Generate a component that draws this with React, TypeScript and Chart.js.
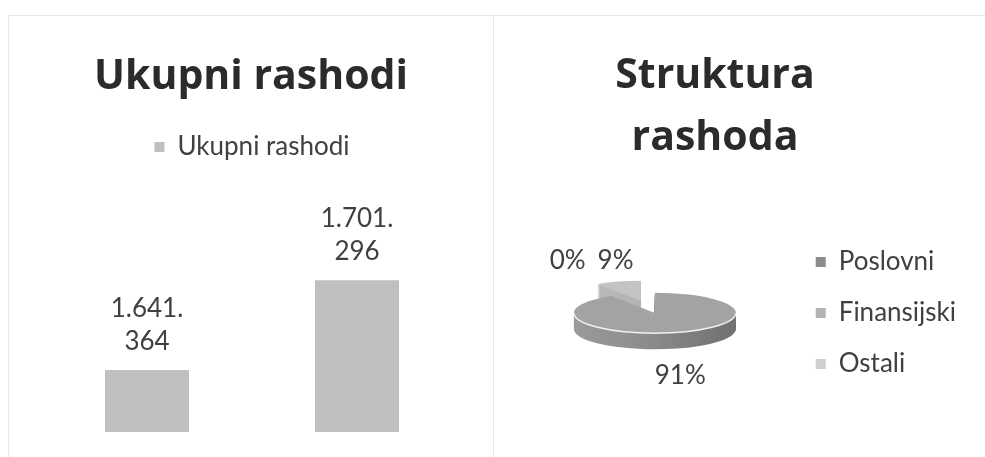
import React, { useEffect, useRef } from "react";
import { Chart, registerables } from "chart.js";

Chart.register(...registerables);

// ---------- data ----------
const barTitleLines = ["Ukupni rashodi"];
const barCategories = ["Prethodni period", "Tekući period"];
const barSeriesName = "Ukupni rashodi";
const barValues = [1641364, 1701296];
const barAxisMin = 1600000;
const barAxisMax = 1775000;

const pieTitleLines = ["Struktura", "rashoda"];
const pieCategories = ["Poslovni", "Finansijski", "Ostali"];
const pieValues = [91, 9, 0];
const pieColors = ["#8c8c8c", "#b4b4b4", "#cfcfcf"];
const pieExplode = [0, 50, 0];

// ---------- styles ----------
const LABEL_FONT = "Lato, 'Open Sans', sans-serif";
const TITLE_FONT = "'Open Sans', Lato, sans-serif";
const TEXT_COLOR = "#404040";

function formatThousands(v: number) {
  return String(Math.round(v)).replace(/\B(?=(\d{3})+(?!\d))/g, ".");
}

function shade(hex: string, f: number) {
  const n = parseInt(hex.slice(1), 16);
  const ch = [(n >> 16) & 255, (n >> 8) & 255, n & 255].map((c) =>
    Math.round(f >= 0 ? c + (255 - c) * f : c * (1 + f))
  );
  return `rgb(${ch[0]},${ch[1]},${ch[2]})`;
}

function headline(lines: string[], baseline: number, lineGap: number, centerX?: number) {
  return {
    id: "headline",
    afterDraw(chart: any) {
      const ctx = chart.ctx as CanvasRenderingContext2D;
      ctx.save();
      ctx.font = `bold 41px ${TITLE_FONT}`;
      ctx.fillStyle = "#2b2b2b";
      ctx.textAlign = "center";
      ctx.textBaseline = "alphabetic";
      const x = centerX ?? chart.width / 2;
      lines.forEach((t, i) => ctx.fillText(t, x, baseline + i * lineGap));
      ctx.restore();
    },
  };
}

const barValueLabels = {
  id: "barValueLabels",
  afterDatasetsDraw(chart: any) {
    const ctx = chart.ctx as CanvasRenderingContext2D;
    const meta = chart.getDatasetMeta(0);
    ctx.save();
    ctx.font = `26px ${LABEL_FONT}`;
    ctx.fillStyle = TEXT_COLOR;
    ctx.textAlign = "center";
    ctx.textBaseline = "alphabetic";
    meta.data.forEach((bar: any, i: number) => {
      const s = formatThousands(chart.data.datasets[0].data[i]);
      const cut = s.lastIndexOf(".") + 1;
      const lines = cut > 0 ? [s.slice(0, cut), s.slice(cut)] : [s];
      lines.forEach((t, k) =>
        ctx.fillText(t, bar.x, bar.y - 20 - (lines.length - 1 - k) * 33)
      );
    });
    ctx.restore();
  },
};

function pie3d(cfg: {
  tilt: number;
  depth: number;
  explode: number[];
  gapX: number;
  gapY: number;
  drop: number;
}) {
  return {
    id: "pie3d",
    beforeDatasetsDraw(chart: any) {
      const meta = chart.getDatasetMeta(0);
      const arcs: any[] = meta.data;
      if (!arcs.length) return false;
      const ctx = chart.ctx as CanvasRenderingContext2D;
      const sy = cfg.tilt;
      const depth = cfg.depth;
      const cx = arcs[0].x;
      const cy = arcs[0].y;
      const r = arcs[0].outerRadius;
      const ds = chart.data.datasets[0];
      const base: string[] = ds.backgroundColor;
      const vals: number[] = ds.data;
      const total = vals.reduce((a, b) => a + b, 0);
      const mid = (a: any) => (a.startAngle + a.endAngle) / 2;
      const shift = (a: any, i: number) => {
        const e = cfg.explode[i] || 0;
        const m = mid(a);
        return [Math.cos(m) * e, Math.sin(m) * e];
      };
      const paint = (a: any, fill: any) => {
        if (!(a.circumference > 0)) return;
        const fake = Object.create(a);
        fake.options = Object.assign({}, a.options, {
          backgroundColor: fill,
          borderWidth: 0,
          offset: 0,
          spacing: 0,
        });
        a.draw.call(fake, ctx);
      };

      ctx.save();
      ctx.translate(cx, cy);
      ctx.scale(1, sy);
      ctx.translate(-cx, -cy);
      const sideFills = base.map((c) => {
        const g = ctx.createLinearGradient(cx - r, 0, cx + r, 0);
        g.addColorStop(0, shade(c, 0.12));
        g.addColorStop(0.45, shade(c, 0));
        g.addColorStop(1, shade(c, -0.2));
        return g;
      });
      for (let d = depth; d >= 1; d--) {
        arcs.forEach((a, i) => {
          const [dx, dy] = shift(a, i);
          ctx.save();
          ctx.translate(dx, dy + d / sy);
          paint(a, sideFills[i]);
          ctx.restore();
        });
      }
      arcs.forEach((a, i) => {
        const [dx, dy] = shift(a, i);
        ctx.save();
        ctx.translate(dx, dy);
        paint(a, shade(base[i], 0.2));
        ctx.restore();
      });
      ctx.restore();

      // rim highlight on the front edge
      ctx.save();
      ctx.strokeStyle = "rgba(255,255,255,0.85)";
      ctx.lineWidth = 1.5;
      arcs.forEach((a, i) => {
        const [dx, dy] = shift(a, i);
        for (const [lo, hi] of [
          [0, Math.PI],
          [2 * Math.PI, 3 * Math.PI],
        ]) {
          const s = Math.max(a.startAngle, lo);
          const e = Math.min(a.endAngle, hi);
          if (e > s) {
            ctx.beginPath();
            ctx.ellipse(cx + dx, cy + dy * sy, r, r * sy, 0, s, e);
            ctx.stroke();
          }
        }
      });

      // percentage labels
      ctx.font = `26px ${LABEL_FONT}`;
      ctx.fillStyle = TEXT_COLOR;
      ctx.textAlign = "center";
      ctx.textBaseline = "middle";
      let prev: any = null;
      arcs.forEach((a, i) => {
        const text = `${Math.round((vals[i] / total) * 100)}%`;
        const w = ctx.measureText(text).width;
        const m = mid(a);
        const c = Math.cos(m);
        const s = Math.sin(m);
        const e = cfg.explode[i] || 0;
        let x = cx + c * (r + e) + c * cfg.gapX;
        let y = cy + s * (r + e) * sy + s * cfg.gapY + (s > 0 ? depth : 0) + cfg.drop;
        if (prev && vals[i] / total < 0.01) {
          x = prev.x - prev.w / 2 - 12 - w / 2;
          y = prev.y;
        }
        ctx.fillText(text, x, y);
        prev = { x, y, w };
      });
      ctx.restore();
      return false;
    },
  };
}

export default function App() {
  const barRef = useRef<HTMLCanvasElement>(null);
  const pieRef = useRef<HTMLCanvasElement>(null);

  useEffect(() => {
    const legendLabels = (padding: number) => ({
      boxWidth: 10,
      boxHeight: 10,
      padding,
      color: TEXT_COLOR,
      font: { family: LABEL_FONT, size: 26 },
    });

    const bar = new Chart(barRef.current as HTMLCanvasElement, {
      type: "bar",
      data: {
        labels: barCategories,
        datasets: [
          {
            label: barSeriesName,
            data: barValues,
            backgroundColor: "#bfbfbf",
            borderWidth: 0,
            barPercentage: 0.4,
            categoryPercentage: 1,
          },
        ],
      },
      options: {
        responsive: false,
        animation: false,
        layout: { padding: { top: 108, left: 33, right: 31, bottom: 25 } },
        scales: {
          x: { display: false },
          y: { display: false, min: barAxisMin, max: barAxisMax },
        },
        plugins: {
          legend: { position: "top", labels: legendLabels(10) },
          tooltip: { enabled: false },
          title: { display: false },
        },
      },
      plugins: [headline(barTitleLines, 73, 62), barValueLabels],
    } as any);

    const pie = new Chart(pieRef.current as HTMLCanvasElement, {
      type: "pie",
      data: {
        labels: pieCategories,
        datasets: [
          {
            data: pieValues,
            backgroundColor: pieColors,
            borderWidth: 0,
            radius: 81,
          },
        ],
      },
      options: {
        responsive: false,
        animation: false,
        layout: { padding: { top: 200, bottom: 47, left: 25, right: 19 } },
        plugins: {
          legend: { position: "right", labels: legendLabels(25) },
          tooltip: { enabled: false },
          title: { display: false },
        },
      },
      plugins: [
        headline(pieTitleLines, 72, 62, 221),
        pie3d({ tilt: 0.25, depth: 16, explode: pieExplode, gapX: 10, gapY: 25, drop: 3 }),
      ],
    } as any);

    return () => {
      bar.destroy();
      pie.destroy();
    };
  }, []);

  return (
    <div
      style={{
        position: "absolute",
        left: 0,
        top: 0,
        width: 985,
        height: 457,
        overflow: "hidden",
        background: "#ffffff",
      }}
    >
      <div
        style={{
          position: "absolute",
          left: 8,
          top: 15,
          width: 484,
          height: 470,
          border: "1px solid #e6e6e6",
        }}
      />
      <div
        style={{
          position: "absolute",
          left: 493,
          top: 15,
          width: 520,
          height: 470,
          border: "1px solid #e6e6e6",
        }}
      />
      <canvas
        ref={barRef}
        width={484}
        height={441}
        style={{ position: "absolute", left: 9, top: 16 }}
      />
      <canvas
        ref={pieRef}
        width={491}
        height={441}
        style={{ position: "absolute", left: 494, top: 16 }}
      />
    </div>
  );
}
